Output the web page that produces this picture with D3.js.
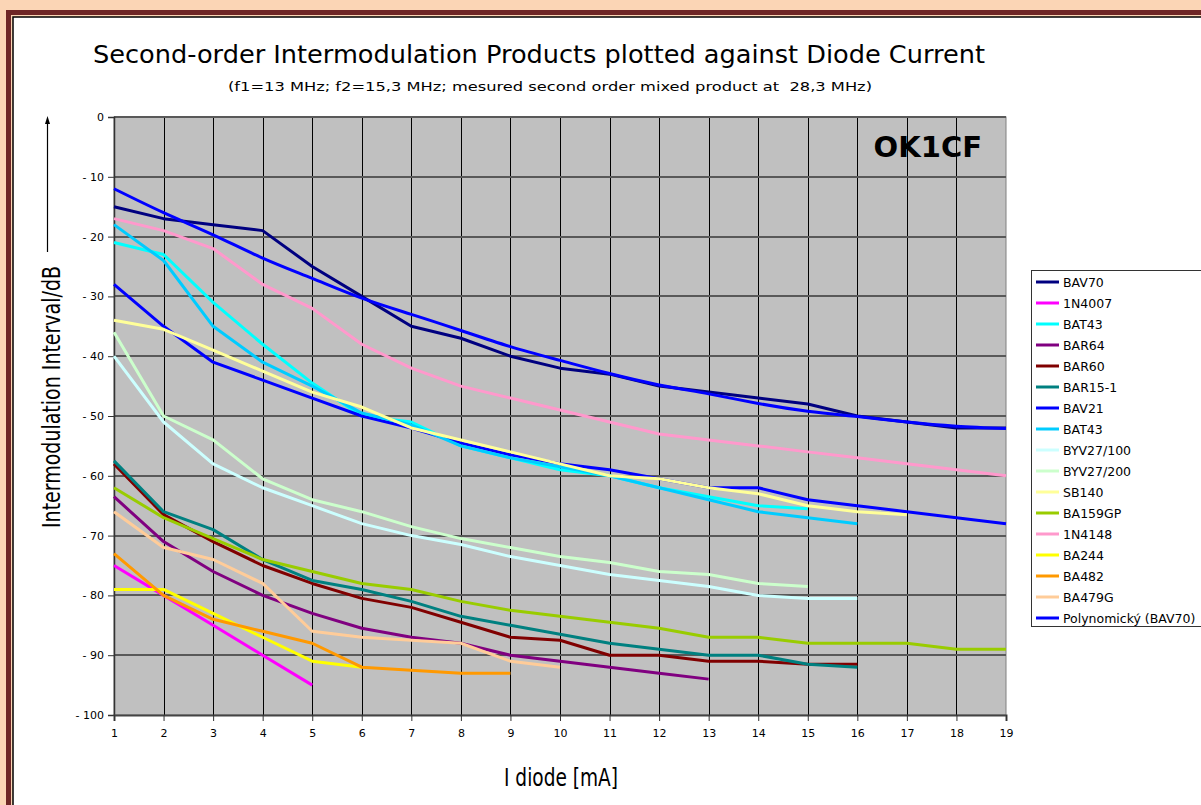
<!DOCTYPE html>
<html>
<head>
<meta charset="utf-8">
<script src="https://cdn.jsdelivr.net/npm/d3@7/dist/d3.min.js"></script>
<style>
  html, body { margin: 0; padding: 0; background: #fbd5b5; overflow: hidden; }
  svg { display: block; font-family: Tahoma, Verdana, "DejaVu Sans", sans-serif; }
</style>
</head>
<body>
<div id="chart"></div>
<script>
const WIDTH = 1201;
const HEIGHT = 805;

// x categories (diode current, mA) and y ticks (dB)
const currents = [1, 2, 3, 4, 5, 6, 7, 8, 9, 10, 11, 12, 13, 14, 15, 16, 17, 18, 19];
const dbTicks = [0, -10, -20, -30, -40, -50, -60, -70, -80, -90, -100];

// measured series, one value per mA starting at 1 mA
const bav70 = [-15, -17, -18, -19, -25, -30, -35, -37, -40, -42, -43, -45, -46, -47, -48, -50, -51, -52, -52];
const n4007 = [-75, -80, -85, -90, -95];
const bat43a = [-21, -23, -31, -38, -44.5, -50, -51, -55, -57, -59, -60, -62, -63.5, -65, -65.5];
const bar64 = [-63.5, -71, -76, -80, -83, -85.5, -87, -88, -90, -91, -92, -93, -94];
const bar60 = [-58, -66.5, -71, -75, -78, -80.5, -82, -84.5, -87, -87.5, -90, -90, -91, -91, -91.5, -91.5];
const bar15 = [-57.5, -66, -69, -74, -77.5, -79, -81, -83.5, -85, -86.5, -88, -89, -90, -90, -91.5, -92];
const bav21 = [-28, -35, -41, -44, -47, -50, -52, -54.5, -56.5, -58, -59, -60.5, -62, -62, -64, -65, -66, -67, -68];
const bat43b = [-18, -24, -35, -41, -45, -49.5, -51.5, -55, -57, -58.5, -60, -62, -64, -66, -67, -68];
const byv100 = [-40, -51, -58, -62, -65, -68, -70, -71.5, -73.5, -75, -76.5, -77.5, -78.5, -80, -80.5, -80.5];
const byv200 = [-36, -50, -54, -60.5, -64, -66, -68.5, -70.5, -72, -73.5, -74.5, -76, -76.5, -78, -78.5];
const sb140 = [-34, -35.5, -39, -42.5, -46, -48.5, -52, -54, -56, -58, -60, -60.5, -62, -63, -65, -66, -66.5];
const ba159 = [-62, -67, -70.5, -74, -76, -78, -79, -81, -82.5, -83.5, -84.5, -85.5, -87, -87, -88, -88, -88, -89, -89];
const n4148 = [-17, -19, -22, -28, -32, -38, -42, -45, -47, -49, -51, -53, -54, -55, -56, -57, -58, -59, -60];
const ba244 = [-79, -79, -83, -87, -91, -92];
const ba482 = [-73, -80, -84, -86, -88, -92, -92.5, -93, -93];
const ba479 = [-66, -72, -74, -78, -86, -87, -87.5, -88, -91, -92];
// polynomial trend of BAV70
const trendBav70 = [-12, -16, -19.7, -23.6, -27, -30.3, -33, -35.7, -38.4, -40.7, -42.9, -44.8, -46.3, -47.9, -49.2, -50.1, -51, -51.7, -52.1];

const seriesNames = ['BAV70', '1N4007', 'BAT43', 'BAR64', 'BAR60', 'BAR15-1', 'BAV21', 'BAT43',
  'BYV27/100', 'BYV27/200', 'SB140', 'BA159GP', '1N4148', 'BA244', 'BA482', 'BA479G', 'Polynomický (BAV70)'];
const seriesValues = [bav70, n4007, bat43a, bar64, bar60, bar15, bav21, bat43b,
  byv100, byv200, sb140, ba159, n4148, ba244, ba482, ba479, trendBav70];
const seriesColors = ['#000080', '#ff00ff', '#00ffff', '#800080', '#800000', '#008080', '#0000ff', '#00ccff',
  '#ccffff', '#ccffcc', '#ffff99', '#99cc00', '#ff99cc', '#ffff00', '#ff9900', '#ffcc99', '#0000ff'];

const series = seriesNames.map((name, i) => ({
  name,
  color: seriesColors[i],
  trend: i === seriesNames.length - 1,
  points: seriesValues[i].map((v, j) => ({ x: currents[j], y: v }))
}));

const FONT = 'Tahoma, Verdana, "DejaVu Sans", sans-serif';

const svg = d3.select('#chart').append('svg')
  .attr('width', WIDTH)
  .attr('height', HEIGHT);

// frame: peach page, brown band, black inner line, white sheet
svg.append('rect').attr('x', 0).attr('y', 0).attr('width', WIDTH).attr('height', HEIGHT).attr('fill', '#fbd5b5');
svg.append('rect').attr('x', 8.5).attr('y', 12.5).attr('width', 1400).attr('height', 1000)
  .attr('fill', 'none').attr('stroke', '#6e2626').attr('stroke-width', 5);
svg.append('rect').attr('x', 13).attr('y', 17).attr('width', 1400).attr('height', 1000)
  .attr('fill', '#fff').attr('stroke', '#000').attr('stroke-width', 1.5);

const plot = { left: 114, right: 1006, top: 117, bottom: 715 };

const x = d3.scaleLinear().domain([1, 19]).range([plot.left, plot.right]);
const y = d3.scaleLinear().domain([-100, 0]).range([plot.bottom, plot.top]);
const px = v => Math.round(v) + 0.5;

// plot area
svg.append('rect')
  .attr('x', plot.left).attr('y', plot.top)
  .attr('width', plot.right - plot.left).attr('height', plot.bottom - plot.top)
  .attr('fill', '#c0c0c0').attr('stroke', '#808080').attr('stroke-width', 1);

// vertical grid (black, thin)
svg.append('g').selectAll('line')
  .data(currents.slice(1, -1))
  .join('line')
  .attr('x1', d => px(x(d))).attr('x2', d => px(x(d)))
  .attr('y1', plot.top).attr('y2', plot.bottom)
  .attr('stroke', '#000').attr('stroke-width', 1);

// horizontal grid (dark gray, thicker)
svg.append('g').selectAll('line')
  .data(dbTicks.slice(0, -1))
  .join('line')
  .attr('x1', plot.left).attr('x2', plot.right)
  .attr('y1', d => Math.round(y(d))).attr('y2', d => Math.round(y(d)))
  .attr('stroke', '#595959').attr('stroke-width', 2);

// axes
const yAxis = d3.axisLeft(y).tickValues(dbTicks).tickSize(6).tickPadding(4)
  .tickFormat(d => d === 0 ? '0' : '- ' + Math.abs(d));
const gy = svg.append('g').attr('transform', `translate(${plot.left},0)`).call(yAxis);
gy.select('.domain').attr('stroke', '#333').attr('stroke-width', 1.5);
gy.selectAll('.tick line').attr('stroke', '#333');
gy.selectAll('.tick text').attr('font-size', 11).attr('fill', '#000').attr('font-family', FONT);

const xAxis = d3.axisBottom(x).tickValues(currents).tickSize(6).tickPadding(8).tickFormat(d3.format('d'));
const gx = svg.append('g').attr('transform', `translate(0,${plot.bottom})`).call(xAxis);
gx.select('.domain').attr('stroke', '#444').attr('stroke-width', 2);
gx.selectAll('.tick line').attr('stroke', '#333');
gx.selectAll('.tick text').attr('font-size', 11).attr('fill', '#000').attr('font-family', FONT);

// series lines
const line = d3.line().x(d => x(d.x)).y(d => y(d.y));
const trendLine = d3.line().x(d => x(d.x)).y(d => y(d.y)).curve(d3.curveNatural);

svg.append('g').selectAll('path')
  .data(series)
  .join('path')
  .attr('d', d => (d.trend ? trendLine : line)(d.points))
  .attr('fill', 'none')
  .attr('stroke', d => d.color)
  .attr('stroke-width', 3)
  .attr('stroke-linejoin', 'round');

// titles
svg.append('text')
  .attr('x', 539).attr('y', 63)
  .attr('text-anchor', 'middle')
  .attr('font-size', 24)
  .attr('textLength', 892).attr('lengthAdjust', 'spacingAndGlyphs')
  .text('Second-order Intermodulation Products plotted against Diode Current');

svg.append('text')
  .attr('x', 550).attr('y', 91)
  .attr('text-anchor', 'middle')
  .attr('font-size', 13)
  .attr('textLength', 644).attr('lengthAdjust', 'spacingAndGlyphs')
  .style('white-space', 'pre')
  .text('(f1=13 MHz; f2=15,3 MHz; mesured second order mixed product at  28,3 MHz)');

svg.append('text')
  .attr('x', 561).attr('y', 786)
  .attr('text-anchor', 'middle')
  .attr('font-size', 24)
  .attr('textLength', 114).attr('lengthAdjust', 'spacingAndGlyphs')
  .text('I diode [mA]');

svg.append('text')
  .attr('transform', 'translate(60,397) rotate(-90)')
  .attr('text-anchor', 'middle')
  .attr('font-size', 24)
  .attr('textLength', 262).attr('lengthAdjust', 'spacingAndGlyphs')
  .text('Intermodulation Interval/dB');

// arrow beside the y title
svg.append('line')
  .attr('x1', 47.5).attr('x2', 47.5).attr('y1', 252).attr('y2', 122)
  .attr('stroke', '#000').attr('stroke-width', 1.2);
svg.append('path')
  .attr('d', 'M47.5,116 L45,124 L50,124 Z')
  .attr('fill', '#000');

// call sign
svg.append('text')
  .attr('x', 982).attr('y', 157)
  .attr('text-anchor', 'end')
  .attr('font-size', 29)
  .attr('font-weight', 'bold')
  .text('OK1CF');

// legend
const legend = svg.append('g').attr('transform', 'translate(1031,270)');
legend.append('rect')
  .attr('x', 0.5).attr('y', 0.5).attr('width', 300).attr('height', 356)
  .attr('fill', '#fff').attr('stroke', '#333').attr('stroke-width', 1);

const rowH = 21;
const rows = legend.selectAll('g.row')
  .data(series)
  .join('g')
  .attr('class', 'row')
  .attr('transform', (d, i) => `translate(0,${12 + i * rowH})`);
rows.append('line')
  .attr('x1', 5).attr('x2', 28).attr('y1', 0).attr('y2', 0)
  .attr('stroke', d => d.color).attr('stroke-width', 3);
rows.append('text')
  .attr('x', 32).attr('y', 4.5)
  .attr('font-size', 12.5)
  .text(d => d.name);
</script>
</body>
</html>
